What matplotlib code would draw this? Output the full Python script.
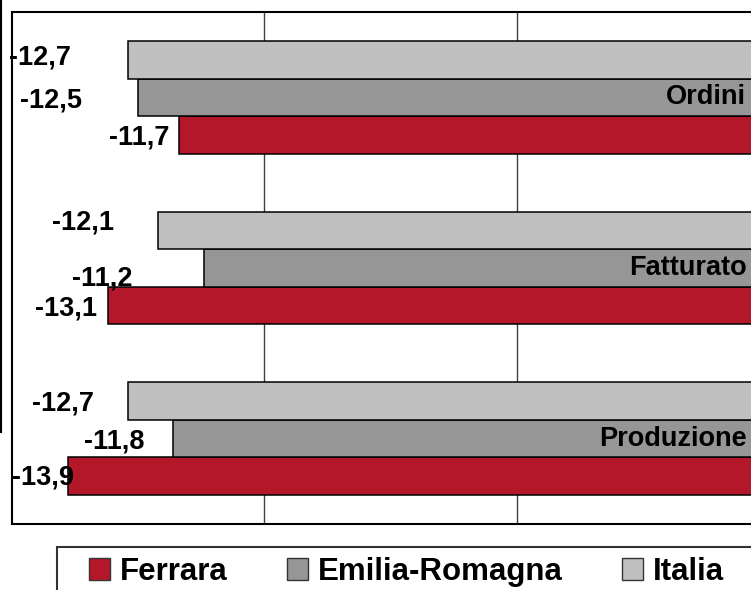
import matplotlib
matplotlib.use("Agg")
import matplotlib.pyplot as plt
from matplotlib.patches import Patch, Rectangle
from matplotlib.lines import Line2D
import numpy as np

plt.rcParams['font.family'] = ['Liberation Sans', 'DejaVu Sans']
plt.rcParams['font.weight'] = 'bold'

# dati (dal basso verso l'alto)
categories = ['Produzione', 'Fatturato', 'Ordini']
series_names = ['Ferrara', 'Emilia-Romagna', 'Italia']
ferrara = [-13.9, -13.1, -11.7]
emilia = [-11.8, -11.2, -12.5]
italia = [-12.7, -12.1, -12.7]

colors = ['#B5172A', '#969696', '#C0C0C0']

# spostamenti manuali delle etichette (come nell'originale)
label_gap = {
    'Ferrara': [0.13, -0.21, -0.18],
    'Emilia-Romagna': [-0.58, -1.42, -1.11],
    'Italia': [-0.67, -0.88, -1.13],
}
label_dy = {
    'Ferrara': [-0.006, -0.018, -0.018],
    'Emilia-Romagna': [-0.015, -0.06, -0.018],
    'Italia': [-0.012, 0.047, 0.012],
}

fig = plt.figure(figsize=(7.51, 5.90), dpi=100)
ax = fig.add_axes([12 / 751, 66 / 590, 757 / 751, 512 / 590])

y = np.arange(len(categories))
h = 0.22
offsets = [-h, 0, h]
data = [ferrara, emilia, italia]

for name, vals, off, col in zip(series_names, data, offsets, colors):
    ax.barh(y + off, vals, height=h, color=col, edgecolor='black',
            linewidth=1.1, zorder=3)
    for i, v in enumerate(vals):
        ax.text(v + label_gap[name][i], y[i] + off + label_dy[name][i],
                f"{v:.1f}".replace('.', ','), ha='right', va='center',
                fontsize=19.5, fontweight='bold', clip_on=False, zorder=5)

for i, cat in enumerate(categories):
    ax.text(-0.45, y[i], cat, ha='right', va='center', fontsize=19.5,
            fontweight='bold', zorder=5)

ax.set_xlim(-15, 0)
ax.set_ylim(-0.5, 2.5)
ax.set_xticks([-10, -5])
ax.xaxis.grid(True, color='#404040', linewidth=1.0)
ax.set_axisbelow(True)
ax.tick_params(length=0, labelbottom=False, labelleft=False)
ax.set_yticks([])
for s in ['left', 'top', 'bottom']:
    ax.spines[s].set_linewidth(1.5)
ax.spines['right'].set_visible(False)

# linea esterna a sinistra
fig.add_artist(Line2D([0.0015, 0.0015], [1.0, (590 - 432) / 590],
                      color='black', linewidth=1.5))

# legenda
fig.add_artist(Rectangle((57 / 751, -0.05), 0.95, (590 - 547) / 590 + 0.05,
                         transform=fig.transFigure, facecolor='white',
                         edgecolor='#333333', linewidth=1.5))
handles = [Patch(facecolor=c, edgecolor='#333333', linewidth=1.0) for c in colors]
fig.legend(handles, series_names, loc='center left',
           bbox_to_anchor=(89 / 751, (590 - 572) / 590), ncol=3,
           frameon=False, fontsize=22.5, handlelength=0.67, handleheight=0.67,
           handletextpad=0.32, columnspacing=1.9, borderpad=0, borderaxespad=0,
           prop={'weight': 'bold', 'size': 22.5})

fig.savefig('out.png', dpi=100)
